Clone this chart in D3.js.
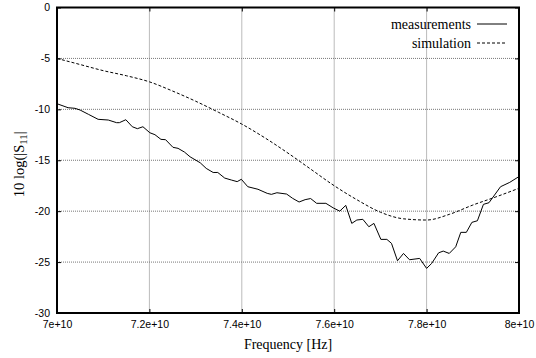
<!DOCTYPE html>
<html>
<head>
<meta charset="utf-8">
<script src="https://cdn.jsdelivr.net/npm/d3@7"></script>
<style>
  body { margin: 0; background: #fff; }
  svg { display: block; }
</style>
</head>
<body>
<div id="chart"></div>
<script>
// measured S11 (frequency in GHz, value in dB)
var measFreq = [70.0, 70.24, 70.39, 70.5, 70.68, 70.89, 71.11, 71.29, 71.35, 71.49,
  71.63, 71.74, 71.86, 72.01, 72.12, 72.25, 72.35, 72.51, 72.62, 72.76,
  72.88, 73.1, 73.23, 73.38, 73.48, 73.63, 73.78, 73.9, 73.99, 74.13,
  74.35, 74.55, 74.64, 74.76, 74.97, 75.1, 75.24, 75.37, 75.49, 75.62,
  75.82, 75.98, 76.12, 76.25, 76.38, 76.49, 76.62, 76.75, 76.86, 77.01,
  77.14, 77.24, 77.37, 77.5, 77.63, 77.85, 78.0, 78.11, 78.26, 78.36,
  78.49, 78.63, 78.74, 78.86, 78.98, 79.1, 79.23, 79.35, 79.47, 79.6,
  79.8, 80.0];
var measDb = [-9.45, -9.84, -9.9, -10.07, -10.49, -10.98, -11.05, -11.31, -11.31, -11.02,
  -11.71, -11.9, -11.71, -12.3, -12.49, -12.95, -12.98, -13.73, -13.83, -14.2,
  -14.66, -15.25, -15.8, -16.2, -16.2, -16.75, -16.95, -17.1, -16.87, -17.6,
  -17.85, -18.25, -18.35, -18.19, -18.32, -18.74, -19.1, -18.87, -18.76, -19.23,
  -19.23, -19.68, -20.0, -19.43, -21.2, -20.87, -20.8, -21.53, -21.2, -22.77,
  -22.77, -23.16, -24.87, -24.15, -24.77, -24.64, -25.62, -25.13, -24.09, -23.92,
  -24.15, -23.5, -22.08, -22.08, -21.1, -20.94, -19.33, -19.17, -18.42, -17.6,
  -17.17, -16.6];

// simulated S11
var simFreq = [70.0, 70.5, 71.0, 71.5, 72.0, 72.5, 73.0, 73.5, 74.0, 74.5,
  75.0, 75.5, 76.0, 76.5, 77.0, 77.5, 78.0, 78.5, 79.0, 79.5, 80.0];
var simDb = [-5.0, -5.6, -6.2, -6.7, -7.3, -8.2, -9.2, -10.3, -11.45, -12.8,
  -14.3, -15.9, -17.5, -18.9, -20.1, -20.75, -20.87, -20.3, -19.4, -18.6, -17.75];

var xTicks = [7e10, 7.2e10, 7.4e10, 7.6e10, 7.8e10, 8e10];
var xTickLabels = ["7e+10", "7.2e+10", "7.4e+10", "7.6e+10", "7.8e+10", "8e+10"];
var yTicks = [0, -5, -10, -15, -20, -25, -30];

var seriesNames = ["measurements", "simulation"];

var W = 536, H = 358;
var margin = {top: 7.5, right: 17, bottom: 45, left: 57};
var iw = W - margin.left - margin.right;
var ih = H - margin.top - margin.bottom;

var svg = d3.select("#chart").append("svg").attr("width", W).attr("height", H);
var g = svg.append("g").attr("transform", "translate(" + margin.left + "," + margin.top + ")");

var x = d3.scaleLinear().domain([7e10, 8e10]).range([0, iw]);
var y = d3.scaleLinear().domain([-30, 0]).range([ih, 0]);

// grid
g.append("g").selectAll("line").data(xTicks.slice(1, -1)).enter().append("line")
  .attr("x1", d => x(d)).attr("x2", d => x(d)).attr("y1", 0).attr("y2", ih)
  .attr("stroke", "#777").attr("stroke-dasharray", "1,1");
g.append("g").selectAll("line").data(yTicks.slice(1, -1)).enter().append("line")
  .attr("x1", 0).attr("x2", iw).attr("y1", d => y(d)).attr("y2", d => y(d))
  .attr("stroke", "#777").attr("stroke-dasharray", "1,1");

var tickFont = "'Liberation Sans', Arial, sans-serif";

g.append("g").attr("transform", "translate(0," + ih + ")")
  .call(d3.axisBottom(x).tickValues(xTicks).tickSizeInner(-4).tickSizeOuter(0).tickPadding(8)
    .tickFormat((d, i) => xTickLabels[i]));
g.append("g")
  .call(d3.axisLeft(y).tickValues(yTicks).tickSizeInner(-4).tickSizeOuter(0).tickPadding(7)
    .tickFormat(d => String(d)));
g.append("g").attr("transform", "translate(" + iw + ",0)")
  .call(d3.axisRight(y).tickValues(yTicks).tickSizeInner(-4).tickSizeOuter(0).tickFormat(""));
g.append("g")
  .call(d3.axisTop(x).tickValues(xTicks).tickSizeInner(-4).tickSizeOuter(0).tickFormat(""));

g.selectAll(".domain").remove();
g.selectAll(".tick line").attr("stroke", "#000");
g.selectAll(".tick text").attr("font-family", tickFont).attr("font-size", "10.5px").attr("fill", "#000");

// series
var line = d3.line().x(d => x(d[0] * 1e9)).y(d => y(d[1]));
var meas = measFreq.map((f, i) => [f, measDb[i]]);
var sim = simFreq.map((f, i) => [f, simDb[i]]);

g.append("path").datum(meas).attr("d", line)
  .attr("fill", "none").attr("stroke", "#000").attr("stroke-width", 1);
g.append("path").datum(sim).attr("d", line.curve(d3.curveMonotoneX))
  .attr("fill", "none").attr("stroke", "#000").attr("stroke-width", 1).attr("stroke-dasharray", "3,2");

// border
g.append("rect").attr("width", iw).attr("height", ih)
  .attr("fill", "none").attr("stroke", "#000").attr("stroke-width", 2);

// legend
var serif = "'Liberation Serif', 'Times New Roman', serif";
var legend = svg.append("g");
var legY = [24, 43];
seriesNames.forEach(function (name, i) {
  legend.append("text").attr("x", 471).attr("y", legY[i] + 4.5)
    .attr("text-anchor", "end").attr("font-family", serif).attr("font-size", "14px")
    .text(name);
  legend.append("line").attr("x1", 477).attr("x2", 507).attr("y1", legY[i]).attr("y2", legY[i])
    .attr("stroke", "#000").attr("stroke-width", 1)
    .attr("stroke-dasharray", i === 1 ? "3,2" : null);
});

// axis titles
svg.append("text").attr("x", margin.left + iw / 2).attr("y", 349)
  .attr("text-anchor", "middle").attr("font-family", serif).attr("font-size", "14px")
  .text("Frequency [Hz]");

var yt = svg.append("text").attr("transform", "translate(24," + (margin.top + ih / 2 + 4) + ") rotate(-90)")
  .attr("text-anchor", "middle").attr("font-family", serif).attr("font-size", "14.5px");
yt.append("tspan").text("10 log(|S");
yt.append("tspan").attr("font-size", "11px").attr("dy", 3).text("11");
yt.append("tspan").attr("dy", -3).text("|");
</script>
</body>
</html>
